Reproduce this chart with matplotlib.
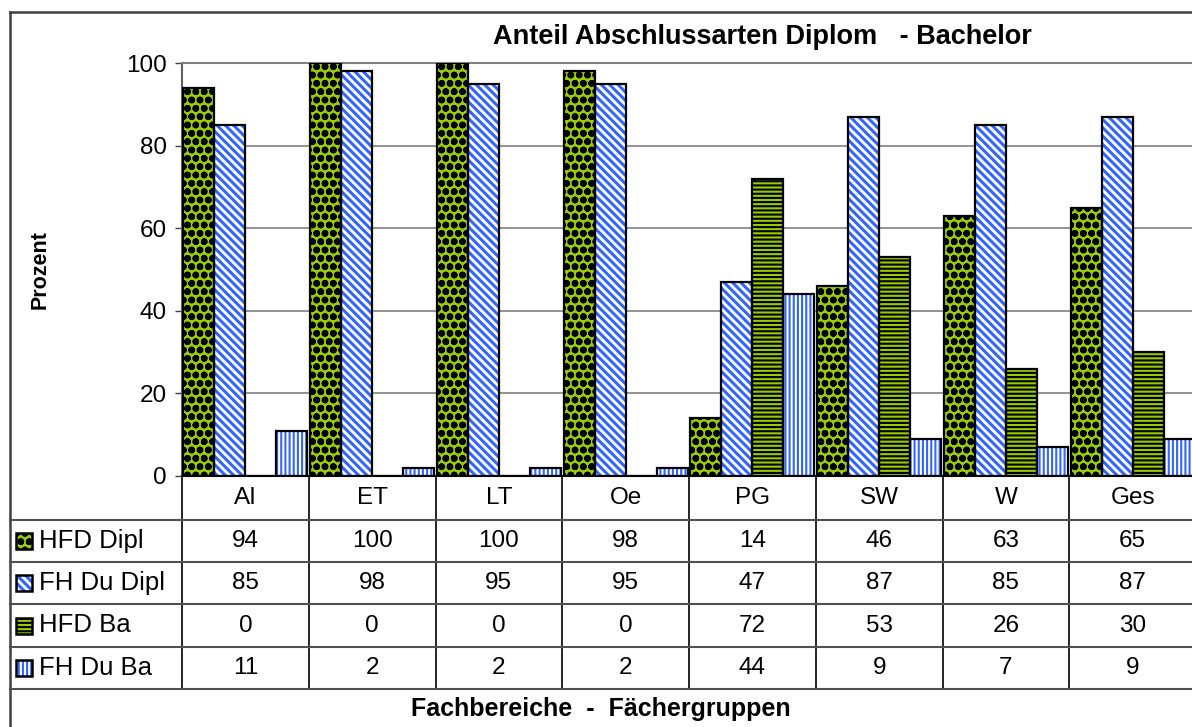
import matplotlib
matplotlib.use("Agg")
import matplotlib.pyplot as plt
import matplotlib.transforms as mtransforms
from matplotlib.lines import Line2D
from matplotlib.patches import Rectangle
import numpy as np

plt.rcParams['font.family'] = ['Liberation Sans', 'DejaVu Sans']

# Daten
kategorien = ["AI", "ET", "LT", "Oe", "PG", "SW", "W", "Ges"]
hfd_dipl = [94, 100, 100, 98, 14, 46, 63, 65]
fh_du_dipl = [85, 98, 95, 95, 47, 87, 85, 87]
hfd_ba = [0, 0, 0, 0, 72, 53, 26, 30]
fh_du_ba = [11, 2, 2, 2, 44, 9, 7, 9]
reihen_namen = ["HFD Dipl", "FH Du Dipl", "HFD Ba", "FH Du Ba"]
reihen_werte = [hfd_dipl, fh_du_dipl, hfd_ba, fh_du_ba]

GRUEN = "#99CC00"
BLAU = "#3366FF"
# (Flaeche, Schraffurfarbe, Schraffur, Schraffur-Linienbreite)
stile = [
    (GRUEN, "black", "oo", 2.4),
    ("white", BLAU, "\\\\\\\\", 2.2),
    (GRUEN, "black", "----", 1.5),
    ("white", BLAU, "||||", 1.5),
]

FS = 17.5      # normale Schrift
FS_LEG = 18.5  # Legende in der Tabelle

W, H = 1192, 727
fig = plt.figure(figsize=(W / 100, H / 100), dpi=100)

def fx(px):
    return px / W

def fy(py):
    return 1 - py / H

ax = fig.add_axes([fx(182), fy(476), (1196 - 182) / W, (476 - 63) / H])
ax.set_xlim(-0.5, len(kategorien) - 0.5)
ax.set_ylim(0, 100)

x = np.arange(len(kategorien))
bw = 0.245
for i, (werte, (fc, hc, hatch, hlw)) in enumerate(zip(reihen_werte, stile)):
    pos = x + (i - 1.5) * bw
    with plt.rc_context({'hatch.linewidth': hlw, 'hatch.color': hc}):
        ax.bar(pos, werte, width=bw, color=fc, edgecolor=hc, linewidth=0,
               hatch=hatch, zorder=3)
    ax.bar(pos, werte, width=bw, color="none", edgecolor="black",
           linewidth=1.6, zorder=4)

ax.set_yticks([0, 20, 40, 60, 80, 100])
ax.tick_params(axis='y', direction='out', length=5, width=1, color="#404040",
               labelsize=FS, pad=6)
ax.set_xticks([])
ax.grid(axis='y', color="#808080", linewidth=1.2, zorder=0)
for s in ['right', 'bottom']:
    ax.spines[s].set_visible(False)
ax.spines['top'].set_color("#808080")
ax.spines['top'].set_linewidth(1.5)
ax.spines['left'].set_color("#606060")
ax.spines['left'].set_linewidth(1.5)

# Rahmen
fig.add_artist(Line2D([fx(10), 1.0], [fy(12), fy(12)], color="#404040", lw=1.8))
fig.add_artist(Line2D([fx(10), fx(10)], [fy(12), 0], color="#404040", lw=1.8))

# Titel und Achsentitel
fig.text(fx(762), fy(37), "Anteil Abschlussarten Diplom   - Bachelor",
         ha="center", va="center", fontsize=19.5, fontweight="bold")
fig.text(fx(40), fy(270), "Prozent", ha="center", va="center",
         rotation=90, fontsize=15.5, fontweight="bold")
fig.text(fx(601), fy(709), "Fachbereiche  -  F\u00e4chergruppen",
         ha="center", va="center", fontsize=18, fontweight="bold")

# Datentabelle
trans = mtransforms.blended_transform_factory(ax.transData, fig.transFigure)
zeilen_y = [476, 520, 562, 604, 647, 689]
fig.add_artist(Line2D([fx(182), 1.0], [fy(476), fy(476)], color="black", lw=1.5))
for yy in zeilen_y[1:]:
    fig.add_artist(Line2D([fx(10), 1.0], [fy(yy), fy(yy)], color="#505050", lw=1.5))
for b in np.arange(len(kategorien) + 1) - 0.5:
    ax.add_artist(Line2D([b, b], [fy(476), fy(689)], color="black", lw=1.2,
                         transform=trans, clip_on=False))

for j, k in enumerate(kategorien):
    ax.text(j, fy(498), k, transform=trans, ha="center", va="center",
            fontsize=FS)
for r, (name, werte, (fc, hc, hatch, hlw)) in enumerate(zip(reihen_namen, reihen_werte, stile)):
    yc = (zeilen_y[r + 1] + zeilen_y[r + 2]) / 2
    for j, v in enumerate(werte):
        ax.text(j, fy(yc), str(v), transform=trans, ha="center", va="center",
                fontsize=FS)
    fig.text(fx(39), fy(yc), name, ha="left", va="center", fontsize=FS_LEG)
    with plt.rc_context({'hatch.linewidth': hlw, 'hatch.color': hc}):
        key = Rectangle((fx(16), fy(yc + 8)), fx(16), 16 / H, transform=fig.transFigure,
                        facecolor=fc, edgecolor=hc, linewidth=0, hatch=hatch)
    fig.add_artist(key)
    fig.add_artist(Rectangle((fx(16), fy(yc + 8)), fx(16), 16 / H,
                             transform=fig.transFigure, facecolor="none",
                             edgecolor="black", linewidth=1.8))

fig.savefig("out.png", dpi=100)
